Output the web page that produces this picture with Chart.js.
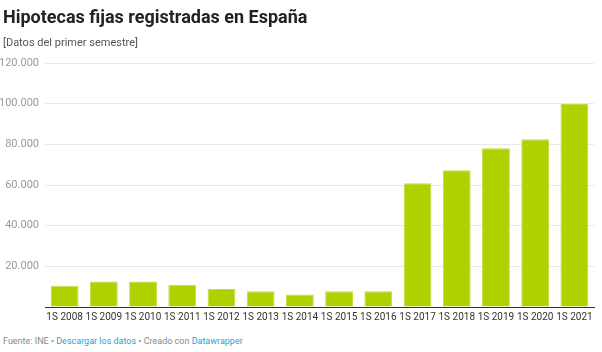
<!DOCTYPE html>
<html>
<head>
<meta charset="utf-8">
<script src="https://cdn.jsdelivr.net/npm/chart.js@4"></script>
<style>
  body { margin: 0; background: #fff; font-family: Roboto, "Noto Sans", sans-serif; }
  #wrap { position: relative; width: 602px; height: 352px; overflow: hidden; }
  .title { position: absolute; left: 3px; top: 6px; font-size: 18px; font-weight: 700; color: #222; white-space: nowrap; }
  .sub { position: absolute; left: 3px; top: 36px; font-size: 11px; color: #555; }
  .foot { position: absolute; left: 3px; top: 336px; font-size: 9px; color: #888; }
  .foot a { color: #2a9fd0; text-decoration: none; }
  #box { position: absolute; left: 0; top: 0; width: 602px; height: 327px; }
</style>
</head>
<body>
<div id="wrap">
  <div id="box"><canvas id="chart"></canvas></div>
  <div class="title">Hipotecas fijas registradas en España</div>
  <div class="sub">[Datos del primer semestre]</div>
  <div class="foot">Fuente: INE • <a>Descargar los datos</a> • Creado con <a>Datawrapper</a></div>
</div>
<script>
// semestres
const labels = ["1S 2008", "1S 2009", "1S 2010", "1S 2011", "1S 2012", "1S 2013", "1S 2014",
  "1S 2015", "1S 2016", "1S 2017", "1S 2018", "1S 2019", "1S 2020", "1S 2021"];
// hipotecas fijas (aprox.)
const hipotecas = [10400, 12600, 12500, 11000, 8900, 7700, 6100,
  7700, 7800, 60800, 67300, 78100, 82500, 99800];
const yTicks = [0, 20000, 40000, 60000, 80000, 100000, 120000];

const fmt = (v) => v.toString().replace(/\B(?=(\d{3})+(?!\d))/g, ".");

new Chart(document.getElementById("chart"), {
  type: "bar",
  data: {
    labels: labels,
    datasets: [{
      data: hipotecas,
      backgroundColor: "#b1d000",
      borderColor: "#c3db40",
      borderWidth: 1,
      barPercentage: 0.71,
      categoryPercentage: 1,
    }],
  },
  options: {
    responsive: true,
    maintainAspectRatio: false,
    animation: false,
    layout: { padding: { top: 63, right: 8, left: 0, bottom: 0 } },
    plugins: { legend: { display: false }, tooltip: { enabled: false } },
    scales: {
      x: {
        grid: { display: false, drawTicks: false },
        border: { color: "#333", width: 1 },
        ticks: { color: "#333", font: { size: 10, family: "Roboto" }, padding: 4, maxRotation: 0, autoSkip: false },
      },
      y: {
        min: 0,
        max: 120000,
        afterBuildTicks: (scale) => { scale.ticks = yTicks.map((v) => ({ value: v })); },
        afterFit: (scale) => { scale.width = 45; },
        border: { display: false },
        grid: { color: "#e8e8e8", drawTicks: false },
        ticks: {
          color: "#999",
          padding: 6,
          font: { size: 11, family: "Roboto" },
          callback: (v) => (v === 0 ? "" : fmt(v)),
        },
      },
    },
  },
});
</script>
</body>
</html>
